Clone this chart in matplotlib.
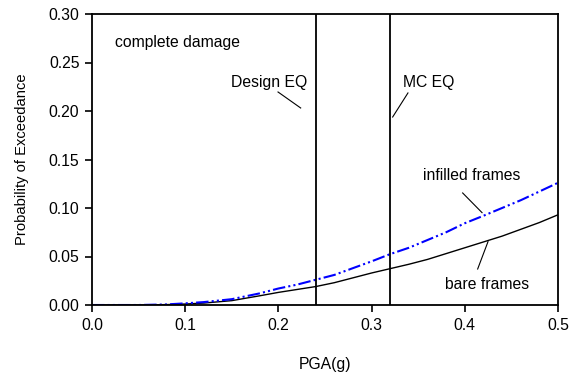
import matplotlib
matplotlib.use("Agg")
import matplotlib.pyplot as plt
import numpy as np

plt.rcParams['font.family'] = ['Liberation Sans', 'DejaVu Sans']

# PGA values and exceedance probabilities
pga = [0.0, 0.05, 0.08, 0.10, 0.12, 0.15, 0.18, 0.20, 0.22, 0.24, 0.26, 0.28,
       0.30, 0.32, 0.34, 0.36, 0.38, 0.40, 0.42, 0.44, 0.46, 0.48, 0.50]
infilled = [0.0, 0.0, 0.0006, 0.0017, 0.003, 0.006, 0.012, 0.017, 0.021, 0.026,
            0.031, 0.038, 0.045, 0.0525, 0.059, 0.067, 0.075, 0.0843, 0.092,
            0.100, 0.108, 0.117, 0.126]
bare = [0.0, 0.0, 0.0004, 0.001, 0.002, 0.0045, 0.0095, 0.013, 0.016, 0.019,
        0.023, 0.028, 0.033, 0.0375, 0.042, 0.047, 0.053, 0.059, 0.065, 0.071,
        0.078, 0.085, 0.093]
design_eq = 0.24
mc_eq = 0.32

xticks = [0.0, 0.1, 0.2, 0.3, 0.4, 0.5]
yticks = [0.0, 0.05, 0.10, 0.15, 0.20, 0.25, 0.30]

fig = plt.figure(figsize=(5.77, 3.81), dpi=100)
ax = fig.add_axes([92/577, 1 - 305/381, 466/577, 291/381])

ax.plot(pga, bare, color='black', lw=1.0)
ax.plot(pga, infilled, color='#0000ff', lw=1.5, dashes=(6, 1.5, 1, 1.5, 1, 1.5))
ax.axvline(design_eq, color='black', lw=1.3)
ax.axvline(mc_eq, color='black', lw=1.3)

fs = 11.3
ax.text(0.025, 0.2706, 'complete damage', fontsize=fs, va='center', ha='left')
ax.text(0.2307, 0.2289, 'Design EQ', fontsize=fs, va='center', ha='right')
ax.plot([0.1996, 0.2239], [0.2196, 0.2031], color='black', lw=0.8)
ax.text(0.3337, 0.2289, 'MC EQ', fontsize=fs, va='center', ha='left')
ax.plot([0.339, 0.3226], [0.2186, 0.1938], color='black', lw=0.8)
ax.text(0.3552, 0.133, 'infilled frames', fontsize=fs, va='center', ha='left')
ax.plot([0.3977, 0.4185], [0.1155, 0.0952], color='black', lw=0.8)
ax.text(0.3788, 0.0216, 'bare frames', fontsize=fs, va='center', ha='left')
ax.plot([0.4138, 0.4249], [0.0371, 0.0653], color='black', lw=0.8)

ax.set_xlim(0, 0.5)
ax.set_ylim(0, 0.3)
ax.set_xticks(xticks)
ax.set_yticks(yticks)
ax.set_xticklabels([f"{t:.1f}" for t in xticks], fontsize=fs)
ax.set_yticklabels([f"{t:.2f}" for t in yticks], fontsize=fs)
ax.tick_params(direction='out', length=5, width=1.2, pad=4)
for s in ax.spines.values():
    s.set_linewidth(1.3)

ax.set_xlabel('PGA(g)', fontsize=fs)
ax.set_ylabel('Probability of Exceedance', fontsize=10.6)
ax.xaxis.set_label_coords(0.5, -0.18)
ax.yaxis.set_label_coords(-0.135, 0.5)

plt.savefig('out.png', dpi=100)
